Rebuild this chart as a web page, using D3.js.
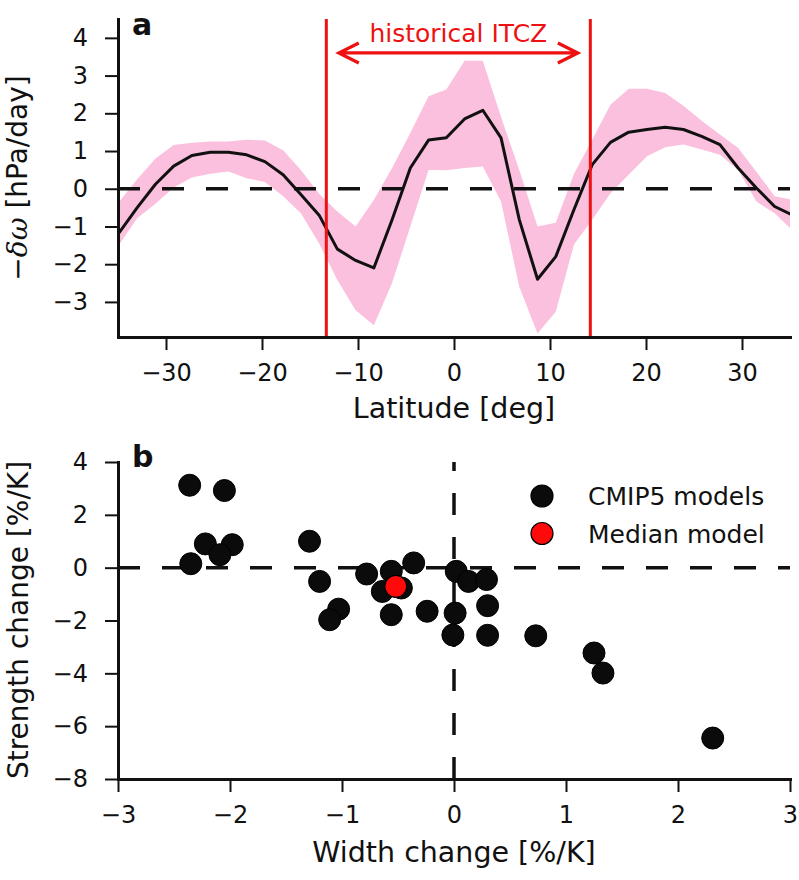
<!DOCTYPE html>
<html><head><meta charset="utf-8">
<script src="https://cdn.jsdelivr.net/npm/d3@7"></script>
<style>
body{margin:0;background:#fff}
text{font-family:"DejaVu Sans",sans-serif;fill:#111}
</style>
</head><body>
<svg id="chart" width="799" height="880"></svg>
<script>
// ---------- Panel a data ----------
const latitudes = [-34.9, -33.0, -31.1, -29.2, -27.3, -25.4, -23.5, -21.6, -19.7, -17.8,
  -15.95, -14.05, -12.15, -10.25, -8.35, -6.45, -4.55, -2.65, -0.8, 1.1,
  3.0, 4.9, 6.8, 8.7, 10.6, 12.5, 14.4, 16.3, 18.2, 20.1,
  22.0, 23.9, 25.8, 27.7, 29.6, 31.5, 33.4, 35.2];
const meanChange = [-1.17, -0.5, 0.12, 0.6, 0.88, 0.97, 0.97, 0.9, 0.72, 0.37,
  -0.15, -0.7, -1.6, -1.9, -2.1, -0.82, 0.55, 1.29, 1.35, 1.85,
  2.08, 1.35, -0.82, -2.4, -1.8, -0.55, 0.64, 1.23, 1.5, 1.57,
  1.63, 1.57, 1.39, 1.17, 0.55, 0.02, -0.47, -0.69];
const upperBound = [-0.35, 0.25, 0.8, 1.16, 1.22, 1.25, 1.25, 1.3, 1.28, 1.02,
  0.5, -0.13, -0.6, -1.0, -0.3, 0.55, 1.48, 2.45, 2.63, 3.39,
  3.39, 1.9, 0.5, -1.0, -0.9, 0.4, 1.3, 2.23, 2.65, 2.65,
  2.54, 2.2, 1.8, 1.44, 1.08, 0.45, -0.2, -0.29];
const lowerBound = [-1.49, -0.78, -0.4, 0.03, 0.3, 0.4, 0.46, 0.28, 0.18, -0.2,
  -0.65, -1.45, -2.42, -3.22, -3.62, -2.5, -1.0, 0.5, 0.49, 0.55,
  0.59, -0.34, -2.6, -3.84, -3.26, -1.48, -0.82, -0.12, 0.37, 0.86,
  1.1, 1.17, 1.04, 0.9, 0.5, -0.34, -0.65, -1.09];
const itczEdges = [-13.3, 14.2];
const itczArrow = [-12.0, 12.9];
const itczLabel = "historical ITCZ";
const latTicks = [-30, -20, -10, 0, 10, 20, 30];
const omegaTicks = [-3, -2, -1, 0, 1, 2, 3, 4];

// ---------- Panel b data ----------
const widthChange = [-2.36, -2.05, -2.22, -1.98, -2.09, -2.35, -1.29, -1.2, -1.03, -1.11,
  -0.78, -0.56, -0.36, -0.64, -0.47, -0.56, -0.24, 0.02, 0.01, -0.01,
  0.13, 0.29, 0.30, 0.30, 0.73, 1.25, 1.33, 2.31];
const strengthChange = [3.12, 2.92, 0.9, 0.87, 0.49, 0.15, 1.0, -0.52, -1.57, -1.97,
  -0.24, -0.14, 0.18, -0.9, -0.77, -1.78, -1.65, -0.14, -1.72, -2.55,
  -0.52, -0.45, -1.44, -2.56, -2.58, -3.23, -3.99, -6.45];
const medianWidth = [-0.52];
const medianStrength = [-0.71];
const widthTicks = [-3, -2, -1, 0, 1, 2, 3];
const strengthTicks = [-8, -6, -4, -2, 0, 2, 4];
const legendLabels = ["CMIP5 models", "Median model"];

// ---------- styles ----------
const RED = "#ee1111", PINK = "#fbc0de", INK = "#111";
const svg = d3.select("#chart");
const intFmt = d3.format("d");

function styleAxis(g) {
  g.select(".domain").attr("stroke", INK).attr("stroke-width", 3).attr("stroke-linecap", "square");
  g.selectAll(".tick line").attr("stroke", INK).attr("stroke-width", 2);
  g.selectAll(".tick text").attr("font-size", 24).attr("fill", INK).style("font-family", "DejaVu Sans");
}

// ================= Panel a =================
const xA = d3.scaleLinear().domain([-35, 35]).range([118, 790]);
const yA = d3.scaleLinear().domain([-3.93, 4.5]).range([337, 19]);

svg.append("clipPath").attr("id", "clipA").append("rect")
  .attr("x", 118).attr("y", 0).attr("width", 672).attr("height", 337);

const gA = svg.append("g");
const plotA = gA.append("g").attr("clip-path", "url(#clipA)");

const rowsA = latitudes.map((d, i) => ({lat: d, m: meanChange[i], hi: upperBound[i], lo: lowerBound[i]}));

plotA.append("path").datum(rowsA)
  .attr("fill", PINK)
  .attr("d", d3.area().x(d => xA(d.lat)).y0(d => yA(d.lo)).y1(d => yA(d.hi)));

plotA.append("line")
  .attr("x1", xA(-35)).attr("x2", xA(35)).attr("y1", yA(0)).attr("y2", yA(0))
  .attr("stroke", INK).attr("stroke-width", 3.5).attr("stroke-dasharray", "22,22");

plotA.append("path").datum(rowsA)
  .attr("fill", "none").attr("stroke", INK).attr("stroke-width", 3).attr("stroke-linejoin", "round")
  .attr("d", d3.line().x(d => xA(d.lat)).y(d => yA(d.m)));

gA.selectAll("line.itcz").data(itczEdges).join("line").attr("class", "itcz")
  .attr("x1", d => xA(d)).attr("x2", d => xA(d)).attr("y1", yA(4.5)).attr("y2", yA(-3.93))
  .attr("stroke", RED).attr("stroke-width", 3);

// arrow
const ay = yA(3.6);
const ax0 = xA(itczArrow[0]), ax1 = xA(itczArrow[1]);
gA.append("path")
  .attr("d", `M${ax0},${ay}L${ax1},${ay}M${ax0 + 20},${ay - 10}L${ax0},${ay}L${ax0 + 20},${ay + 10}M${ax1 - 20},${ay - 10}L${ax1},${ay}L${ax1 - 20},${ay + 10}`)
  .attr("fill", "none").attr("stroke", RED).attr("stroke-width", 3.2);
gA.append("text").attr("x", (ax0 + ax1) / 2).attr("y", yA(3.9))
  .attr("text-anchor", "middle").attr("font-size", 25).style("fill", RED).text(itczLabel);

gA.append("g").attr("transform", "translate(0,337)")
  .call(d3.axisBottom(xA).tickValues(latTicks).tickFormat(intFmt).tickSize(13).tickSizeOuter(0).tickPadding(14))
  .call(styleAxis);
gA.append("g").attr("transform", "translate(118,0)")
  .call(d3.axisLeft(yA).tickValues(omegaTicks).tickFormat(intFmt).tickSize(13).tickSizeOuter(0).tickPadding(17))
  .call(styleAxis);

gA.append("text").attr("x", 454).attr("y", 418).attr("text-anchor", "middle")
  .attr("font-size", 28.5).text("Latitude [deg]");

const yl = gA.append("text").attr("transform", "translate(27,178) rotate(-90)")
  .attr("text-anchor", "middle").attr("font-size", 28);
yl.append("tspan").text("\u2212");
yl.append("tspan").style("font-family", "DejaVu Serif").attr("font-style", "italic").text("\u03b4\u03c9");
yl.append("tspan").text(" [hPa/day]");

gA.append("text").attr("x", 132).attr("y", 35).attr("font-size", 30).attr("font-weight", "bold").text("a");

// ================= Panel b =================
const xB = d3.scaleLinear().domain([-3, 3]).range([118, 790]);
const yB = d3.scaleLinear().domain([-8, 4]).range([779, 462]);
const gB = svg.append("g");

gB.append("line")
  .attr("x1", xB(-3)).attr("x2", xB(3)).attr("y1", yB(0)).attr("y2", yB(0))
  .attr("stroke", INK).attr("stroke-width", 3.5).attr("stroke-dasharray", "22,22");
gB.append("line")
  .attr("x1", xB(0)).attr("x2", xB(0)).attr("y1", yB(-8)).attr("y2", yB(4))
  .attr("stroke", INK).attr("stroke-width", 3.5).attr("stroke-dasharray", "22,22");

const pts = widthChange.map((d, i) => ({x: d, y: strengthChange[i]}));
gB.selectAll("circle.m").data(pts).join("circle").attr("class", "m")
  .attr("cx", d => xB(d.x)).attr("cy", d => yB(d.y)).attr("r", 11)
  .attr("fill", "#0b0b0b").attr("stroke", "#000").attr("stroke-width", 1);
gB.selectAll("circle.med").data(medianWidth.map((d, i) => ({x: d, y: medianStrength[i]}))).join("circle")
  .attr("class", "med")
  .attr("cx", d => xB(d.x)).attr("cy", d => yB(d.y)).attr("r", 11)
  .attr("fill", "#ff0a0a").attr("stroke", "#000").attr("stroke-width", 1.2);

gB.append("g").attr("transform", "translate(0,779)")
  .call(d3.axisBottom(xB).tickValues(widthTicks).tickFormat(intFmt).tickSize(13).tickSizeOuter(0).tickPadding(14))
  .call(styleAxis);
gB.append("g").attr("transform", "translate(118,0)")
  .call(d3.axisLeft(yB).tickValues(strengthTicks).tickFormat(intFmt).tickSize(13).tickSizeOuter(0).tickPadding(17))
  .call(styleAxis);

gB.append("text").attr("x", 454).attr("y", 862).attr("text-anchor", "middle")
  .attr("font-size", 28.5).text("Width change [%/K]");
gB.append("text").attr("transform", "translate(28,620) rotate(-90)")
  .attr("text-anchor", "middle").attr("font-size", 28).text("Strength change [%/K]");
gB.append("text").attr("x", 132).attr("y", 467).attr("font-size", 30).attr("font-weight", "bold").text("b");

// legend
const legFill = ["#0b0b0b", "#ff0a0a"];
const leg = gB.selectAll("g.leg").data(legendLabels).join("g").attr("class", "leg")
  .attr("transform", (d, i) => `translate(542,${496 + i * 37.5})`);
leg.append("circle").attr("r", 11).attr("fill", (d, i) => legFill[i]).attr("stroke", "#000").attr("stroke-width", 1.2);
leg.append("text").attr("x", 46).attr("y", 9).attr("font-size", 25).text(d => d);
</script>
</body></html>
